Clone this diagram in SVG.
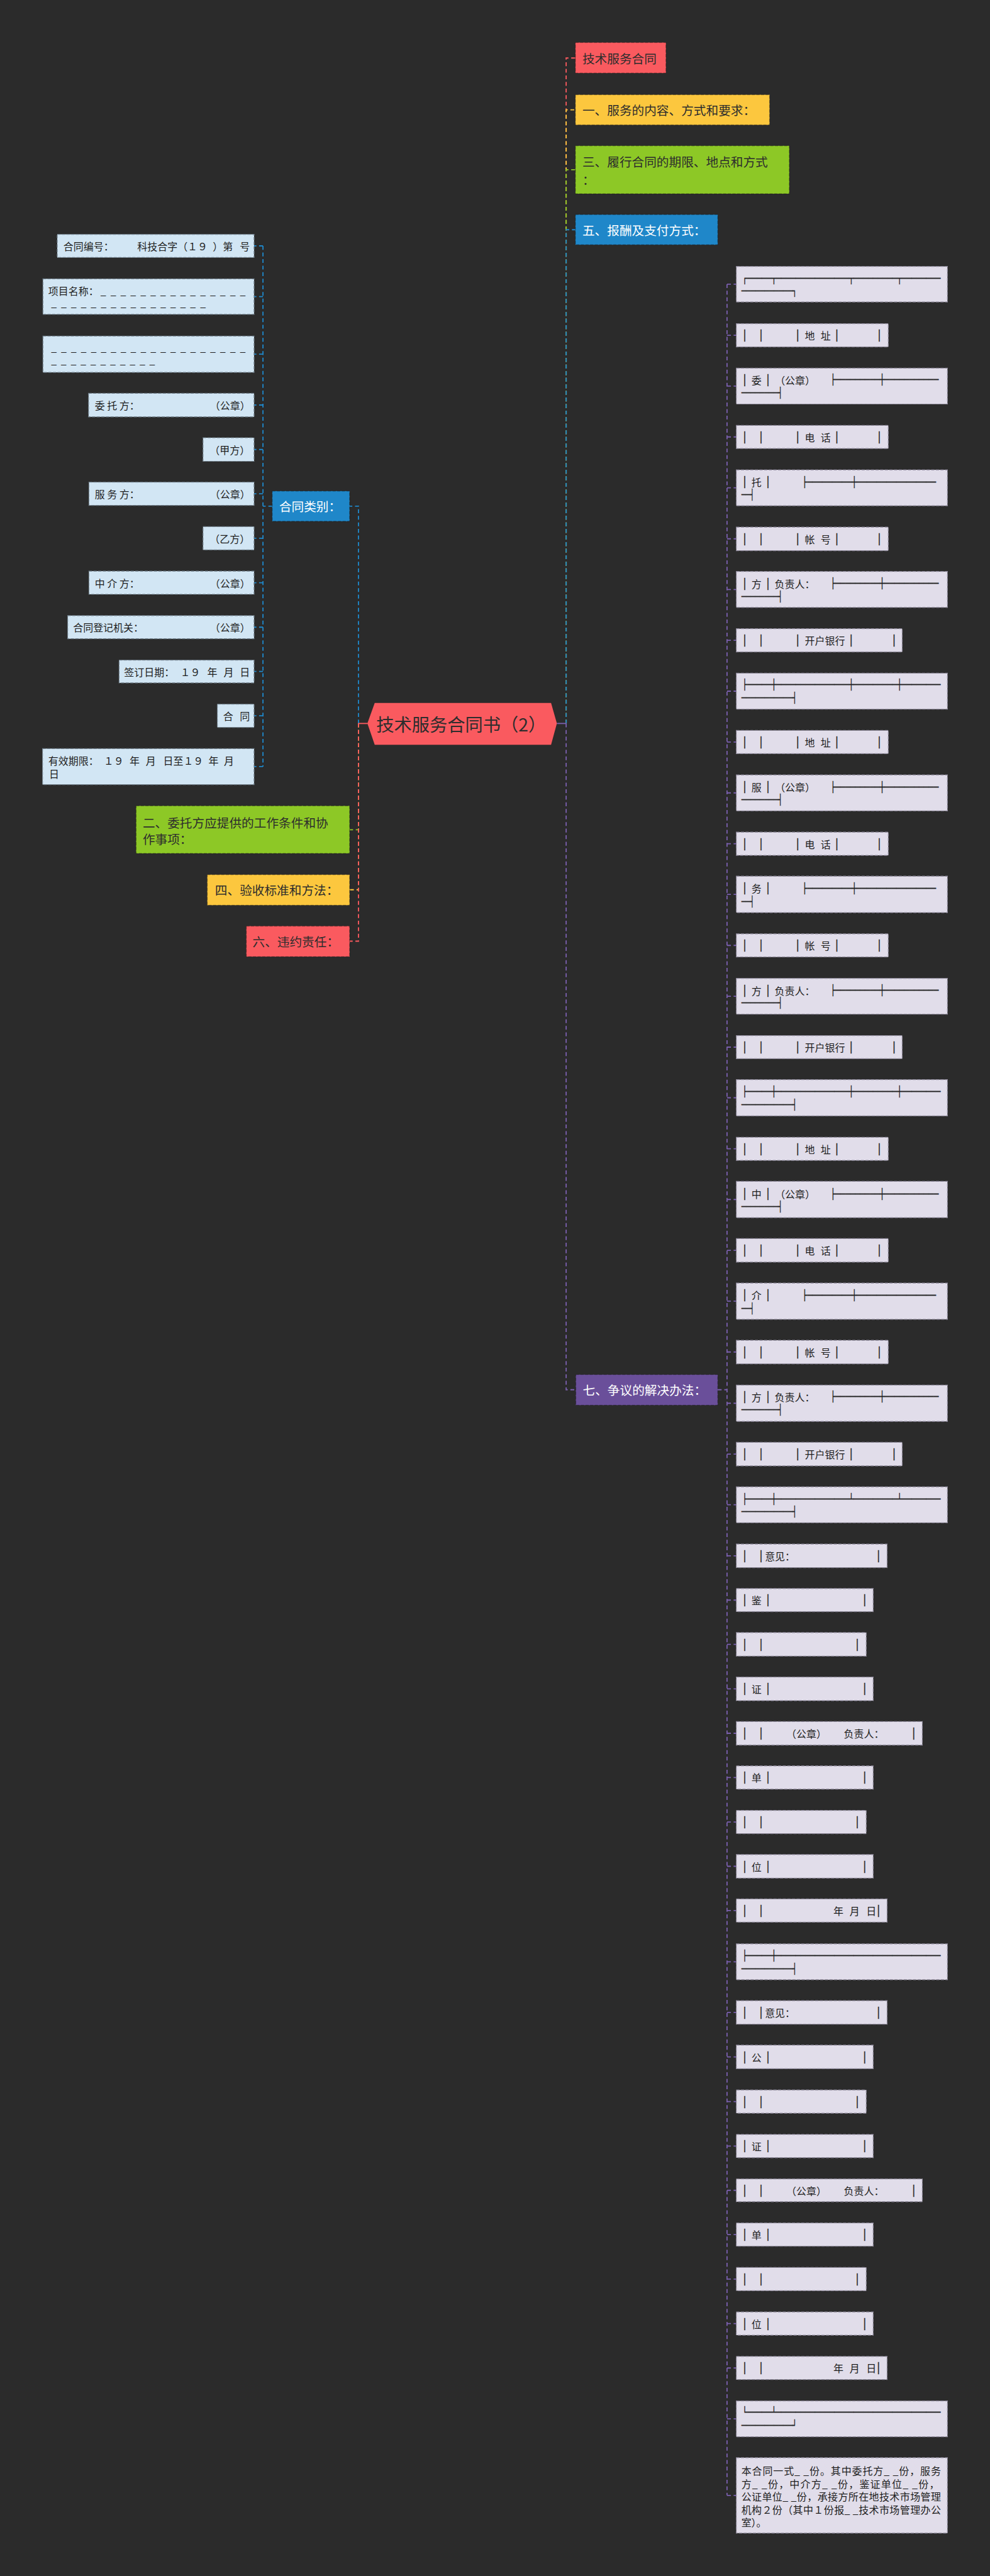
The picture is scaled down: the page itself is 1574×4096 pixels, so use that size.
<svg xmlns="http://www.w3.org/2000/svg" width="1574" height="4096" viewBox="0 0 1574 4096">
<defs>
<style>
.t{font-family:"Noto Sans CJK SC","Noto Sans",sans-serif;dominant-baseline:central}
.m{font-size:32px;fill:#2d2d2d}
.w{fill:#ffffff}
.s{font-size:26px;fill:#1e1e1e}
.bx{font-family:"DejaVu Sans Mono",monospace;font-size:26px;fill:#1e1e1e;stroke:#1e1e1e;stroke-width:0.5;dominant-baseline:central}
.pp{text-anchor:middle}
.lb{fill:#d2e6f4;stroke:#71808c;stroke-width:2;stroke-dasharray:8 4}
.lv{fill:#e1ddea;stroke:#8c8799;stroke-width:2;stroke-dasharray:8 4}
.bn{stroke:rgba(0,0,0,0.28);stroke-width:2;stroke-dasharray:8 4}
.cn{fill:none;stroke-width:3;stroke-dasharray:10 7}
</style>
</defs>
<rect width="1574" height="4096" fill="#2b2b2b"/>
<g transform="scale(0.61484)">
<g id="connectors">
<path class="cn" stroke="#1f87c9" d="M927,1871V1309H904"/>
<path class="cn" stroke="#8dc826" d="M927,1871V2146H904"/>
<path class="cn" stroke="#fcc73e" d="M927,1871V2301H904"/>
<path class="cn" stroke="#fa5a5f" d="M927,1871V2434H904"/>
<line x1="950" y1="1871" x2="927" y2="1871" stroke="#fa5a5f" stroke-width="3"/>
<path class="cn" stroke="#fa5a5f" d="M1464,1871V150H1488"/>
<path class="cn" stroke="#fcc73e" d="M1464,1871V284H1488"/>
<path class="cn" stroke="#8dc826" d="M1464,1871V439H1488"/>
<path class="cn" stroke="#1f87c9" d="M1464,1871V594H1488"/>
<path class="cn" stroke="#7a5fae" d="M1464,1871V3594H1489"/>
<line x1="1440" y1="1871" x2="1464" y2="1871" stroke="#7a5fae" stroke-width="3"/>
<path class="cn" stroke="#1f87c9" d="M704,1309H680M680,636V1982.5M680,636H657M680,767H657M680,916H657M680,1047.5H657M680,1162.5H657M680,1277H657M680,1392H657M680,1507H657M680,1622H657M680,1736.5H657M680,1851H657M680,1982.5H657"/>
<path class="cn" stroke="#7a5fae" d="M1856,3594H1880M1880,735V6453.5M1880,735H1904M1880,867H1904M1880,998.5H1904M1880,1130H1904M1880,1261.5H1904M1880,1393.5H1904M1880,1524.5H1904M1880,1656H1904M1880,1787.5H1904M1880,1919H1904M1880,2050.5H1904M1880,2182H1904M1880,2313H1904M1880,2445H1904M1880,2576.5H1904M1880,2708H1904M1880,2839H1904M1880,2971H1904M1880,3102H1904M1880,3233.5H1904M1880,3365H1904M1880,3496.5H1904M1880,3629H1904M1880,3760.5H1904M1880,3891.5H1904M1880,4023.5H1904M1880,4138H1904M1880,4252.5H1904M1880,4367.5H1904M1880,4482.5H1904M1880,4597H1904M1880,4712H1904M1880,4826.5H1904M1880,4941H1904M1880,5073.5H1904M1880,5204.5H1904M1880,5319.5H1904M1880,5435H1904M1880,5550H1904M1880,5664.5H1904M1880,5779H1904M1880,5894H1904M1880,6009H1904M1880,6124H1904M1880,6255.5H1904M1880,6453.5H1904"/>
</g>

<g id="root"><polygon points="950,1871 969,1818 1425,1818 1440,1871 1425,1926 969,1926" fill="#fa5a5f"/><text class="t" x="973" y="1871" font-size="46" fill="#2d2d2d">技术服务合同书（2）</text></g>

<g id="b-jishu"><rect class="bn" x="1488" y="110" width="234" height="79" fill="#fa5a5f"/><text class="t m" x="1506" y="150">技术服务合同</text></g>
<g id="b-1"><rect class="bn" x="1488" y="245" width="502" height="78" fill="#fcc73e"/><text class="t m" x="1506" y="284">一、服务的内容、方式和要求：</text></g>
<g id="b-3"><rect class="bn" x="1488" y="377" width="553" height="124" fill="#8dc826"/><text class="t m"><tspan x="1506" y="417">三、履行合同的期限、地点和方式</tspan><tspan x="1506" y="463">：</tspan></text></g>
<g id="b-5"><rect class="bn" x="1488" y="555" width="368" height="78" fill="#1f87c9"/><text class="t m w" x="1506" y="594">五、报酬及支付方式：</text></g>
<g id="b-7"><rect class="bn" x="1489" y="3555" width="367" height="79" fill="#6a4f9a"/><text class="t m w" x="1507" y="3594">七、争议的解决办法：</text></g>
<g id="b-lb"><rect class="bn" x="704" y="1270" width="200" height="78" fill="#1f87c9"/><text class="t m w" x="722" y="1309">合同类别：</text></g>
<g id="b-2"><rect class="bn" x="352" y="2084" width="552" height="123" fill="#8dc826"/><text class="t m"><tspan x="369" y="2126">二、委托方应提供的工作条件和协</tspan><tspan x="369" y="2168">作事项：</tspan></text></g>
<g id="b-4"><rect class="bn" x="536" y="2262" width="368" height="79" fill="#fcc73e"/><text class="t m" x="556" y="2301">四、验收标准和方法：</text></g>
<g id="b-6"><rect class="bn" x="637" y="2395" width="267" height="79" fill="#fa5a5f"/><text class="t m" x="653" y="2434">六、违约责任：</text></g>

<g id="l1"><rect class="lb" x="148" y="606" width="509" height="60"/><text class="t s" y="636"><tspan x="164">合同编号：</tspan><tspan x="355">科技合字（１９</tspan><tspan x="550">）第</tspan><tspan x="620">号</tspan></text></g>
<g id="l2"><rect class="lb" x="111" y="721" width="546" height="92"/><text class="t s" x="125" y="752">项目名称：</text><text class="t s" x="260" y="752" textLength="375" lengthAdjust="spacing">_ _ _ _ _ _ _ _ _ _ _ _ _ _ _</text><text class="t s" x="132" y="783" textLength="400" lengthAdjust="spacing">_ _ _ _ _ _ _ _ _ _ _ _ _ _ _ _</text></g>
<g id="l3"><rect class="lb" x="111" y="869" width="546" height="94"/><text class="t s" x="132" y="897" textLength="503" lengthAdjust="spacing">_ _ _ _ _ _ _ _ _ _ _ _ _ _ _ _ _ _ _ _</text><text class="t s" x="132" y="931" textLength="269" lengthAdjust="spacing">_ _ _ _ _ _ _ _ _ _ _</text></g>
<g id="l4"><rect class="lb" x="229" y="1017" width="428" height="61"/><text class="t s" y="1047.5"><tspan x="245">委 托 方：</tspan><tspan x="543">（公章）</tspan></text></g>
<g id="l5"><rect class="lb" x="525" y="1132" width="132" height="61"/><text class="t s" x="542" y="1162.5">（甲方）</text></g>
<g id="l6"><rect class="lb" x="230" y="1247" width="427" height="60"/><text class="t s" y="1277"><tspan x="245">服 务 方：</tspan><tspan x="543">（公章）</tspan></text></g>
<g id="l7"><rect class="lb" x="525" y="1362" width="132" height="60"/><text class="t s" x="542" y="1392">（乙方）</text></g>
<g id="l8"><rect class="lb" x="230" y="1477" width="427" height="60"/><text class="t s" y="1507"><tspan x="245">中 介 方：</tspan><tspan x="543">（公章）</tspan></text></g>
<g id="l9"><rect class="lb" x="175" y="1592" width="482" height="60"/><text class="t s" y="1622"><tspan x="189">合同登记机关：</tspan><tspan x="543">（公章）</tspan></text></g>
<g id="l10"><rect class="lb" x="308" y="1707" width="349" height="59"/><text class="t s" y="1736.5"><tspan x="321">签订日期：</tspan><tspan x="466">１９</tspan><tspan x="536">年</tspan><tspan x="578">月</tspan><tspan x="620">日</tspan></text></g>
<g id="l11"><rect class="lb" x="562" y="1821" width="95" height="60"/><text class="t s" y="1851"><tspan x="577">合</tspan><tspan x="620">同</tspan></text></g>
<g id="l12"><rect class="lb" x="110" y="1936" width="547" height="93"/><text class="t s" y="1967"><tspan x="125">有效期限：</tspan><tspan x="268">１９</tspan><tspan x="335">年</tspan><tspan x="377">月</tspan><tspan x="422">日至１９</tspan><tspan x="539">年</tspan><tspan x="579">月</tspan></text><text class="t s" x="127" y="2000">日</text></g>

<g id="p1"><rect class="lv" x="1904" y="689" width="546" height="92"/><text class="bx" x="1919.75" y="720" textLength="512.5" lengthAdjust="spacingAndGlyphs">┌─────┬───────────────┬─────────┬────────</text><text class="bx" x="1917" y="753" textLength="144" lengthAdjust="spacingAndGlyphs">───────────┐</text></g>
<g id="p2"><rect class="lv" x="1904" y="837" width="393" height="60"/><text class="bx pp" y="867"><tspan x="1926">│</tspan><tspan x="1968">│</tspan><tspan x="2063">│</tspan><tspan x="2164">│</tspan><tspan x="2274">│</tspan></text><text class="t s" y="867"><tspan x="2081">地</tspan><tspan x="2122">址</tspan></text></g>
<g id="p3"><rect class="lv" x="1904" y="952" width="546" height="93"/><text class="bx pp" y="982"><tspan x="1926">│</tspan><tspan x="1986">│</tspan></text><text class="t s" y="982"><tspan x="1943">委</tspan><tspan x="2004">（公章）</tspan></text><text class="bx" x="2147.65" y="982" textLength="279.4" lengthAdjust="spacingAndGlyphs">├─────────┼───────────</text><text class="bx" x="1917" y="1016" textLength="106.9" lengthAdjust="spacingAndGlyphs">────────┤</text></g>
<g id="p4"><rect class="lv" x="1904" y="1100" width="393" height="60"/><text class="bx pp" y="1130"><tspan x="1926">│</tspan><tspan x="1968">│</tspan><tspan x="2063">│</tspan><tspan x="2164">│</tspan><tspan x="2274">│</tspan></text><text class="t s" y="1130"><tspan x="2081">电</tspan><tspan x="2122">话</tspan></text></g>
<g id="p5"><rect class="lv" x="1904" y="1215" width="546" height="93"/><text class="bx pp" y="1246"><tspan x="1926">│</tspan><tspan x="1986">│</tspan></text><text class="t s" x="1943" y="1246">托</text><text class="bx" x="2074.6" y="1246" textLength="345.6" lengthAdjust="spacingAndGlyphs">├─────────┼────────────────</text><text class="bx" x="1917" y="1279" textLength="33.6" lengthAdjust="spacingAndGlyphs">──┤</text></g>
<g id="p6"><rect class="lv" x="1904" y="1363" width="393" height="61"/><text class="bx pp" y="1393.5"><tspan x="1926">│</tspan><tspan x="1968">│</tspan><tspan x="2063">│</tspan><tspan x="2164">│</tspan><tspan x="2274">│</tspan></text><text class="t s" y="1393.5"><tspan x="2081">帐</tspan><tspan x="2122">号</tspan></text></g>
<g id="p7"><rect class="lv" x="1904" y="1478" width="546" height="93"/><text class="bx pp" y="1509"><tspan x="1926">│</tspan><tspan x="1986">│</tspan></text><text class="t s" y="1509"><tspan x="1943">方</tspan><tspan x="2003">负责人：</tspan></text><text class="bx" x="2147.65" y="1509" textLength="279.4" lengthAdjust="spacingAndGlyphs">├─────────┼───────────</text><text class="bx" x="1917" y="1542" textLength="106.9" lengthAdjust="spacingAndGlyphs">────────┤</text></g>
<g id="p8"><rect class="lv" x="1904" y="1626" width="429" height="60"/><text class="bx pp" y="1656"><tspan x="1926">│</tspan><tspan x="1968">│</tspan><tspan x="2063">│</tspan><tspan x="2201">│</tspan><tspan x="2312">│</tspan></text><text class="t s" x="2081" y="1656">开户银行</text></g>
<g id="p9"><rect class="lv" x="1904" y="1741" width="546" height="93"/><text class="bx" x="1919.75" y="1771" textLength="512.5" lengthAdjust="spacingAndGlyphs">├─────┼───────────────┼─────────┼────────</text><text class="bx" x="1917" y="1805" textLength="144" lengthAdjust="spacingAndGlyphs">───────────┤</text></g>
<g id="p10"><rect class="lv" x="1904" y="1889" width="393" height="60"/><text class="bx pp" y="1919"><tspan x="1926">│</tspan><tspan x="1968">│</tspan><tspan x="2063">│</tspan><tspan x="2164">│</tspan><tspan x="2274">│</tspan></text><text class="t s" y="1919"><tspan x="2081">地</tspan><tspan x="2122">址</tspan></text></g>
<g id="p11"><rect class="lv" x="1904" y="2004" width="546" height="93"/><text class="bx pp" y="2035"><tspan x="1926">│</tspan><tspan x="1986">│</tspan></text><text class="t s" y="2035"><tspan x="1943">服</tspan><tspan x="2004">（公章）</tspan></text><text class="bx" x="2147.65" y="2035" textLength="279.4" lengthAdjust="spacingAndGlyphs">├─────────┼───────────</text><text class="bx" x="1917" y="2068" textLength="106.9" lengthAdjust="spacingAndGlyphs">────────┤</text></g>
<g id="p12"><rect class="lv" x="1904" y="2152" width="393" height="60"/><text class="bx pp" y="2182"><tspan x="1926">│</tspan><tspan x="1968">│</tspan><tspan x="2063">│</tspan><tspan x="2164">│</tspan><tspan x="2274">│</tspan></text><text class="t s" y="2182"><tspan x="2081">电</tspan><tspan x="2122">话</tspan></text></g>
<g id="p13"><rect class="lv" x="1904" y="2266" width="546" height="94"/><text class="bx pp" y="2297"><tspan x="1926">│</tspan><tspan x="1986">│</tspan></text><text class="t s" x="1943" y="2297">务</text><text class="bx" x="2074.6" y="2297" textLength="345.6" lengthAdjust="spacingAndGlyphs">├─────────┼────────────────</text><text class="bx" x="1917" y="2332" textLength="33.6" lengthAdjust="spacingAndGlyphs">──┤</text></g>
<g id="p14"><rect class="lv" x="1904" y="2415" width="393" height="60"/><text class="bx pp" y="2445"><tspan x="1926">│</tspan><tspan x="1968">│</tspan><tspan x="2063">│</tspan><tspan x="2164">│</tspan><tspan x="2274">│</tspan></text><text class="t s" y="2445"><tspan x="2081">帐</tspan><tspan x="2122">号</tspan></text></g>
<g id="p15"><rect class="lv" x="1904" y="2530" width="546" height="93"/><text class="bx pp" y="2561"><tspan x="1926">│</tspan><tspan x="1986">│</tspan></text><text class="t s" y="2561"><tspan x="1943">方</tspan><tspan x="2003">负责人：</tspan></text><text class="bx" x="2147.65" y="2561" textLength="279.4" lengthAdjust="spacingAndGlyphs">├─────────┼───────────</text><text class="bx" x="1917" y="2594" textLength="106.9" lengthAdjust="spacingAndGlyphs">────────┤</text></g>
<g id="p16"><rect class="lv" x="1904" y="2678" width="429" height="60"/><text class="bx pp" y="2708"><tspan x="1926">│</tspan><tspan x="1968">│</tspan><tspan x="2063">│</tspan><tspan x="2201">│</tspan><tspan x="2312">│</tspan></text><text class="t s" x="2081" y="2708">开户银行</text></g>
<g id="p17"><rect class="lv" x="1904" y="2792" width="546" height="94"/><text class="bx" x="1919.75" y="2823" textLength="512.5" lengthAdjust="spacingAndGlyphs">├─────┼───────────────┼─────────┼────────</text><text class="bx" x="1917" y="2857" textLength="144" lengthAdjust="spacingAndGlyphs">───────────┤</text></g>
<g id="p18"><rect class="lv" x="1904" y="2941" width="393" height="60"/><text class="bx pp" y="2971"><tspan x="1926">│</tspan><tspan x="1968">│</tspan><tspan x="2063">│</tspan><tspan x="2164">│</tspan><tspan x="2274">│</tspan></text><text class="t s" y="2971"><tspan x="2081">地</tspan><tspan x="2122">址</tspan></text></g>
<g id="p19"><rect class="lv" x="1904" y="3055" width="546" height="94"/><text class="bx pp" y="3087"><tspan x="1926">│</tspan><tspan x="1986">│</tspan></text><text class="t s" y="3087"><tspan x="1943">中</tspan><tspan x="2004">（公章）</tspan></text><text class="bx" x="2147.65" y="3087" textLength="279.4" lengthAdjust="spacingAndGlyphs">├─────────┼───────────</text><text class="bx" x="1917" y="3120" textLength="106.9" lengthAdjust="spacingAndGlyphs">────────┤</text></g>
<g id="p20"><rect class="lv" x="1904" y="3203" width="393" height="61"/><text class="bx pp" y="3233.5"><tspan x="1926">│</tspan><tspan x="1968">│</tspan><tspan x="2063">│</tspan><tspan x="2164">│</tspan><tspan x="2274">│</tspan></text><text class="t s" y="3233.5"><tspan x="2081">电</tspan><tspan x="2122">话</tspan></text></g>
<g id="p21"><rect class="lv" x="1904" y="3318" width="546" height="94"/><text class="bx pp" y="3349"><tspan x="1926">│</tspan><tspan x="1986">│</tspan></text><text class="t s" x="1943" y="3349">介</text><text class="bx" x="2074.6" y="3349" textLength="345.6" lengthAdjust="spacingAndGlyphs">├─────────┼────────────────</text><text class="bx" x="1917" y="3383" textLength="33.6" lengthAdjust="spacingAndGlyphs">──┤</text></g>
<g id="p22"><rect class="lv" x="1904" y="3466" width="393" height="61"/><text class="bx pp" y="3496.5"><tspan x="1926">│</tspan><tspan x="1968">│</tspan><tspan x="2063">│</tspan><tspan x="2164">│</tspan><tspan x="2274">│</tspan></text><text class="t s" y="3496.5"><tspan x="2081">帐</tspan><tspan x="2122">号</tspan></text></g>
<g id="p23"><rect class="lv" x="1904" y="3582" width="546" height="94"/><text class="bx pp" y="3612"><tspan x="1926">│</tspan><tspan x="1986">│</tspan></text><text class="t s" y="3612"><tspan x="1943">方</tspan><tspan x="2003">负责人：</tspan></text><text class="bx" x="2147.65" y="3612" textLength="279.4" lengthAdjust="spacingAndGlyphs">├─────────┼───────────</text><text class="bx" x="1917" y="3645" textLength="106.9" lengthAdjust="spacingAndGlyphs">────────┤</text></g>
<g id="p24"><rect class="lv" x="1904" y="3730" width="429" height="61"/><text class="bx pp" y="3760.5"><tspan x="1926">│</tspan><tspan x="1968">│</tspan><tspan x="2063">│</tspan><tspan x="2201">│</tspan><tspan x="2312">│</tspan></text><text class="t s" x="2081" y="3760.5">开户银行</text></g>
<g id="p25"><rect class="lv" x="1904" y="3845" width="546" height="93"/><text class="bx" x="1919.75" y="3876" textLength="512.5" lengthAdjust="spacingAndGlyphs">├─────┼───────────────┴─────────┴────────</text><text class="bx" x="1917" y="3909" textLength="144" lengthAdjust="spacingAndGlyphs">───────────┤</text></g>
<g id="p26"><rect class="lv" x="1904" y="3993" width="390" height="61"/><text class="bx pp" y="4023.5"><tspan x="1926">│</tspan><tspan x="1968">│</tspan><tspan x="2272">│</tspan></text><text class="t s" x="1978" y="4023.5">意见：</text></g>
<g id="p27"><rect class="lv" x="1904" y="4108" width="354" height="60"/><text class="bx pp" y="4138"><tspan x="1926">│</tspan><tspan x="1986">│</tspan><tspan x="2236">│</tspan></text><text class="t s" x="1943" y="4138">鉴</text></g>
<g id="p28"><rect class="lv" x="1904" y="4222" width="336" height="61"/><text class="bx pp" y="4252.5"><tspan x="1926">│</tspan><tspan x="1968">│</tspan><tspan x="2217">│</tspan></text></g>
<g id="p29"><rect class="lv" x="1904" y="4337" width="354" height="61"/><text class="bx pp" y="4367.5"><tspan x="1926">│</tspan><tspan x="1986">│</tspan><tspan x="2236">│</tspan></text><text class="t s" x="1943" y="4367.5">证</text></g>
<g id="p30"><rect class="lv" x="1904" y="4452" width="481" height="61"/><text class="bx pp" y="4482.5"><tspan x="1926">│</tspan><tspan x="1968">│</tspan><tspan x="2363">│</tspan></text><text class="t s" y="4482.5"><tspan x="2033">（公章）</tspan><tspan x="2182">负责人：</tspan></text></g>
<g id="p31"><rect class="lv" x="1904" y="4567" width="354" height="60"/><text class="bx pp" y="4597"><tspan x="1926">│</tspan><tspan x="1986">│</tspan><tspan x="2236">│</tspan></text><text class="t s" x="1943" y="4597">单</text></g>
<g id="p32"><rect class="lv" x="1904" y="4682" width="336" height="60"/><text class="bx pp" y="4712"><tspan x="1926">│</tspan><tspan x="1968">│</tspan><tspan x="2217">│</tspan></text></g>
<g id="p33"><rect class="lv" x="1904" y="4796" width="354" height="61"/><text class="bx pp" y="4826.5"><tspan x="1926">│</tspan><tspan x="1986">│</tspan><tspan x="2236">│</tspan></text><text class="t s" x="1943" y="4826.5">位</text></g>
<g id="p34"><rect class="lv" x="1904" y="4911" width="390" height="60"/><text class="bx pp" y="4941"><tspan x="1926">│</tspan><tspan x="1968">│</tspan><tspan x="2272">│</tspan></text><text class="t s" y="4941"><tspan x="2155">年</tspan><tspan x="2197">月</tspan><tspan x="2240">日</tspan></text></g>
<g id="p35"><rect class="lv" x="1904" y="5027" width="546" height="93"/><text class="bx" x="1919.75" y="5058" textLength="512.5" lengthAdjust="spacingAndGlyphs">├─────┼──────────────────────────────────</text><text class="bx" x="1917" y="5091" textLength="144" lengthAdjust="spacingAndGlyphs">───────────┤</text></g>
<g id="p36"><rect class="lv" x="1904" y="5174" width="390" height="61"/><text class="bx pp" y="5204.5"><tspan x="1926">│</tspan><tspan x="1968">│</tspan><tspan x="2272">│</tspan></text><text class="t s" x="1978" y="5204.5">意见：</text></g>
<g id="p37"><rect class="lv" x="1904" y="5289" width="354" height="61"/><text class="bx pp" y="5319.5"><tspan x="1926">│</tspan><tspan x="1986">│</tspan><tspan x="2236">│</tspan></text><text class="t s" x="1943" y="5319.5">公</text></g>
<g id="p38"><rect class="lv" x="1904" y="5405" width="336" height="60"/><text class="bx pp" y="5435"><tspan x="1926">│</tspan><tspan x="1968">│</tspan><tspan x="2217">│</tspan></text></g>
<g id="p39"><rect class="lv" x="1904" y="5520" width="354" height="60"/><text class="bx pp" y="5550"><tspan x="1926">│</tspan><tspan x="1986">│</tspan><tspan x="2236">│</tspan></text><text class="t s" x="1943" y="5550">证</text></g>
<g id="p40"><rect class="lv" x="1904" y="5635" width="481" height="59"/><text class="bx pp" y="5664.5"><tspan x="1926">│</tspan><tspan x="1968">│</tspan><tspan x="2363">│</tspan></text><text class="t s" y="5664.5"><tspan x="2033">（公章）</tspan><tspan x="2182">负责人：</tspan></text></g>
<g id="p41"><rect class="lv" x="1904" y="5749" width="354" height="60"/><text class="bx pp" y="5779"><tspan x="1926">│</tspan><tspan x="1986">│</tspan><tspan x="2236">│</tspan></text><text class="t s" x="1943" y="5779">单</text></g>
<g id="p42"><rect class="lv" x="1904" y="5864" width="336" height="60"/><text class="bx pp" y="5894"><tspan x="1926">│</tspan><tspan x="1968">│</tspan><tspan x="2217">│</tspan></text></g>
<g id="p43"><rect class="lv" x="1904" y="5979" width="354" height="60"/><text class="bx pp" y="6009"><tspan x="1926">│</tspan><tspan x="1986">│</tspan><tspan x="2236">│</tspan></text><text class="t s" x="1943" y="6009">位</text></g>
<g id="p44"><rect class="lv" x="1904" y="6094" width="390" height="60"/><text class="bx pp" y="6124"><tspan x="1926">│</tspan><tspan x="1968">│</tspan><tspan x="2272">│</tspan></text><text class="t s" y="6124"><tspan x="2155">年</tspan><tspan x="2197">月</tspan><tspan x="2240">日</tspan></text></g>
<g id="p45"><rect class="lv" x="1904" y="6209" width="546" height="93"/><text class="bx" x="1919.75" y="6239" textLength="512.5" lengthAdjust="spacingAndGlyphs">└─────┴──────────────────────────────────</text><text class="bx" x="1917" y="6273" textLength="144" lengthAdjust="spacingAndGlyphs">───────────┘</text></g>
<g id="p46"><rect class="lv" x="1904" y="6356" width="546" height="195"/><text class="t s" x="1917" y="6389" textLength="516" lengthAdjust="spacing">本合同一式_ _份。其中委托方_ _份，服务</text><text class="t s" x="1917" y="6423" textLength="512" lengthAdjust="spacing">方_ _份，中介方_ _份，鉴证单位_ _份，</text><text class="t s" x="1917" y="6456" textLength="516" lengthAdjust="spacing">公证单位_ _份，承接方所在地技术市场管理</text><text class="t s" x="1917" y="6489" textLength="516" lengthAdjust="spacing">机构２份（其中１份报_ _技术市场管理办公</text><text class="t s" x="1917" y="6522">室）。</text></g>
</g>
</svg>
